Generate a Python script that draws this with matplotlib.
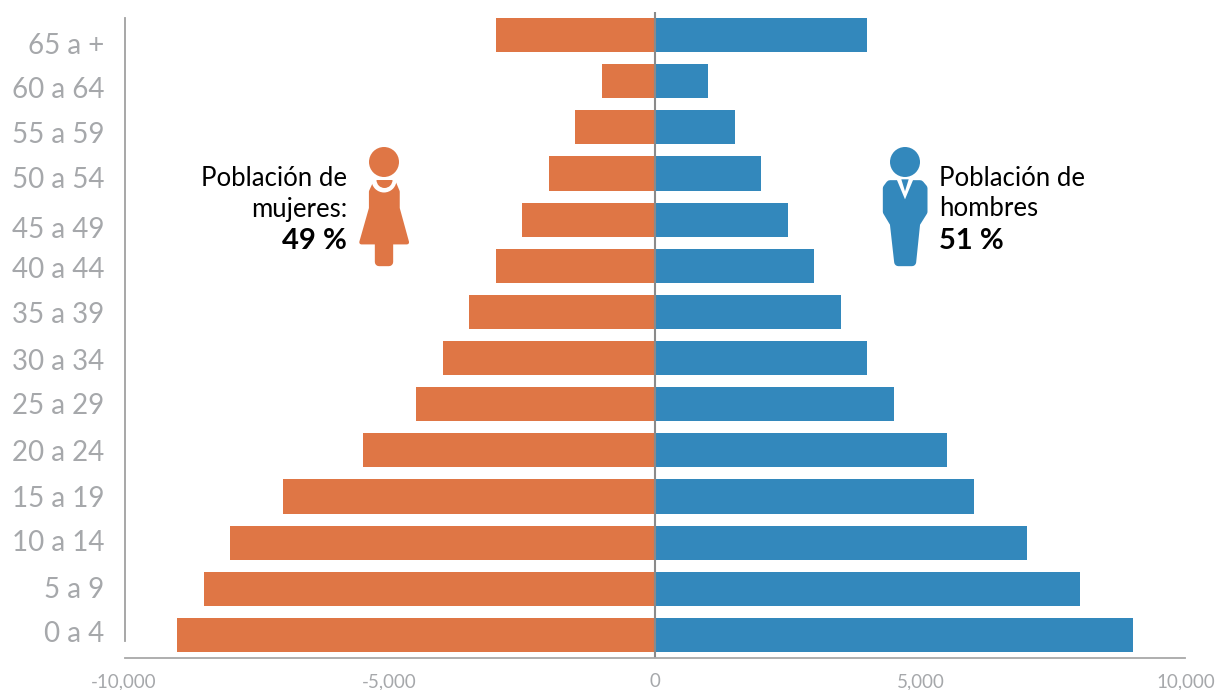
import numpy as np
import matplotlib
matplotlib.use("Agg")
import matplotlib.pyplot as plt
from matplotlib.patches import Circle, Polygon, Wedge

# Datos de la piramide
grupos = ["0 a 4", "5 a 9", "10 a 14", "15 a 19", "20 a 24", "25 a 29", "30 a 34",
          "35 a 39", "40 a 44", "45 a 49", "50 a 54", "55 a 59", "60 a 64", "65 a +"]
mujeres = [9000, 8500, 8000, 7000, 5500, 4500, 4000, 3500, 3000, 2500, 2000, 1500, 1000, 3000]
hombres = [9000, 8000, 7000, 6000, 5500, 4500, 4000, 3500, 3000, 2500, 2000, 1500, 1000, 4000]
ticks = [-10000, -5000, 0, 5000, 10000]
tick_labels = ["-10,000", "-5,000", "0", "5,000", "10,000"]
# altura en pixeles de cada etiqueta (no van parejas en el original)
grupo_y = [634, 590, 543, 499, 453, 406, 362, 315, 270, 230, 180, 135, 90, 46]

NARANJA = "#DF7645"
AZUL = "#3388BC"
GRIS = "#A6A8AB"
W, H = 1215, 690
FUENTE = ["Lato", "DejaVu Sans"]

plt.rcParams["font.family"] = FUENTE

fig = plt.figure(figsize=(W / 100, H / 100), dpi=100)

# Ejes principales: de x=124 a 1186 px, y=658 a 12 px
ax = fig.add_axes([124 / W, 1 - 658 / H, 1062 / W, 646 / H])
y = np.arange(len(grupos))
ax.barh(y, -np.array(mujeres), height=0.737, color=NARANJA)
ax.barh(y, hombres, height=0.737, color=AZUL)
ax.set_xlim(-10000, 10000)
ax.set_ylim(-0.5, 13.5)
ax.axvline(0, color="#8A8A8A", lw=1.5)

ax.set_yticks([])
ax.set_xticks(ticks)
ax.set_xticklabels(tick_labels, fontsize=13.5, color=GRIS)
ax.tick_params(axis="x", length=0, pad=11)
for lado in ["top", "right", "left"]:
    ax.spines[lado].set_visible(False)
ax.spines["bottom"].set_color("#A8A8A8")
ax.spines["bottom"].set_linewidth(1.3)
ax.spines["bottom"].set_bounds(-9990, 9990)

# Capa en pixeles para etiquetas e iconos
capa = fig.add_axes([0, 0, 1, 1])
capa.set_xlim(0, W)
capa.set_ylim(H, 0)
capa.axis("off")
capa.plot([125, 125], [18, 641], color="#A0A0A0", lw=1.3)

for g, gy in zip(grupos, grupo_y):
    capa.text(104, gy, g, ha="right", va="center", fontsize=20, color=GRIS)


def zoom_a_px(puntos, x0, y0=130):
    return [(x0 + a / 3, y0 + b / 3) for a, b in puntos]


def figura(puntos, color, grosor=3):
    capa.add_patch(Polygon(puntos, closed=True, facecolor=color, edgecolor=color,
                           lw=grosor, joinstyle="round"))


# Icono mujer
capa.add_patch(Circle((384, 162), 15, color=NARANJA, lw=0))
vestido = [(104, 161), (93, 185), (93, 235), (64, 337), (201, 337), (173, 235), (173, 185), (163, 161)]
figura(zoom_a_px(vestido, 340), NARANJA)
figura(zoom_a_px([(117, 330), (148, 330), (148, 397), (117, 397)], 340), NARANJA, grosor=6)
capa.add_patch(Wedge((384, 180), 12.5, 0, 180, color="white", lw=0))
capa.add_patch(Wedge((384.5, 180), 8, 0, 180, color=NARANJA, lw=0))

# Icono hombre
capa.add_patch(Circle((905, 162), 15, color=AZUL, lw=0))
traje = [(90, 163), (180, 163), (190, 175), (190, 245), (168, 280), (156, 396), (115, 396),
         (102, 280), (81, 245), (81, 175)]
figura(zoom_a_px(traje, 860), AZUL, grosor=6)
capa.add_patch(Polygon(zoom_a_px([(110, 148), (160, 148), (135, 208)], 860), color="white", lw=0))
capa.add_patch(Polygon(zoom_a_px([(124, 148), (146, 148), (135, 184)], 860), color=AZUL, lw=0))

# Textos
capa.text(347, 178, "Población de", ha="right", va="center", fontsize=18.5, color="black")
capa.text(347, 209, "mujeres:", ha="right", va="center", fontsize=18.5, color="black")
capa.text(347, 241, "49 %", ha="right", va="center", fontsize=21, color="black", fontweight="bold")
capa.text(939, 178, "Población de", ha="left", va="center", fontsize=18.5, color="black")
capa.text(939, 209, "hombres", ha="left", va="center", fontsize=18.5, color="black")
capa.text(939, 241, "51 %", ha="left", va="center", fontsize=21, color="black", fontweight="bold")

fig.savefig("out.png", dpi=100)
